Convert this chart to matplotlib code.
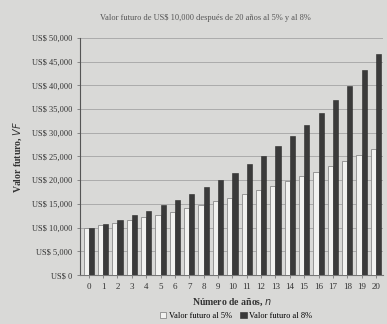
import matplotlib
matplotlib.use("Agg")
import matplotlib.pyplot as plt
import numpy as np

years = list(range(0, 21))
fv5 = [10000, 10500, 11025, 11576, 12155, 12763, 13401, 14071, 14775, 15513, 16289,
       17103, 17959, 18856, 19799, 20789, 21829, 22920, 24066, 25270, 26533]
fv8 = [10000, 10800, 11664, 12597, 13605, 14693, 15869, 17138, 18509, 19990, 21589,
       23316, 25182, 27196, 29372, 31722, 34259, 37000, 39960, 43157, 46610]
yticks = list(range(0, 50001, 5000))
ylabels = ["US$ 0"] + ["US$ {:,}".format(v) for v in yticks[1:]]

plt.rcParams['font.family'] = ['Liberation Serif', 'DejaVu Serif']
bg = '#d9d9d7'
fig = plt.figure(figsize=(3.87, 3.24), dpi=100, facecolor=bg)
ax = fig.add_axes([0.207, 0.151, 0.783, 0.732], facecolor=bg)

x = np.arange(len(years))
w = 0.36
ax.bar(x - w/2, fv5, width=w, color='#f2f2f0', edgecolor='#8a8a8a', linewidth=0.6,
       label='Valor futuro al 5%', zorder=3)
ax.bar(x + w/2, fv8, width=w, color='#3a3a3a', edgecolor='#2a2a2a', linewidth=0.4,
       label='Valor futuro al 8%', zorder=3)

ax.set_ylim(0, 50000)
ax.set_xlim(-0.6, 20.5)
ax.set_yticks(yticks)
ax.set_yticklabels(ylabels, fontsize=6, color='#444444')
ax.set_xticks(x)
ax.set_xticklabels([str(y) for y in years], fontsize=6.5, color='#333333')
ax.yaxis.grid(True, color='#ababab', linewidth=0.7, zorder=0)
for s in ['top', 'right']:
    ax.spines[s].set_visible(False)
ax.spines['left'].set_color('#555555')
ax.spines['bottom'].set_color('#777777')
ax.tick_params(axis='both', length=2, width=0.5, colors='#666666', labelcolor='#333333')

ax.set_xlabel('Número de años, $n$', fontsize=7, fontweight='bold', color='#333333', labelpad=4)
ax.set_ylabel('Valor futuro, $VF$', fontsize=7, fontweight='bold', color='#333333', labelpad=6)
fig.text(0.53, 0.945, 'Valor futuro de US$ 10,000 después de 20 años al 5% y al 8%',
         ha='center', va='center', fontsize=6, color='#555555')

leg = fig.legend(loc='lower center', bbox_to_anchor=(0.61, -0.005), ncol=2, frameon=False,
                 fontsize=6, handlelength=0.8, handleheight=0.8, columnspacing=1.0,
                 handletextpad=0.3, borderpad=0.2)
fig.savefig('out.png', dpi=100, facecolor=bg)
